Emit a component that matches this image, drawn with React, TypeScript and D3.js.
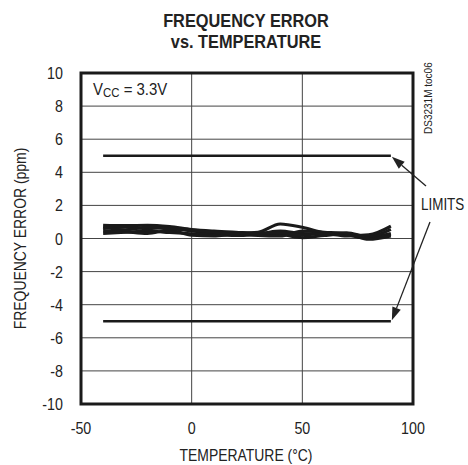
import React from "react";
import * as d3 from "d3";

const temps = [-40, -30, -20, -10, 0, 10, 20, 30, 40, 50, 60, 70, 80, 90];
const series1 = [0.8, 0.78, 0.8, 0.72, 0.55, 0.45, 0.38, 0.32, 0.45, 0.3, 0.28, 0.35, 0.1, 0.3];
const series2 = [0.62, 0.68, 0.6, 0.66, 0.45, 0.35, 0.32, 0.38, 0.88, 0.68, 0.35, 0.22, 0.0, 0.25];
const series3 = [0.3, 0.38, 0.45, 0.36, 0.28, 0.22, 0.18, 0.22, 0.22, 0.05, 0.18, 0.25, -0.05, 0.15];
const series4 = [0.48, 0.4, 0.3, 0.5, 0.2, 0.15, 0.28, 0.18, 0.15, 0.45, 0.38, 0.3, 0.12, 0.55];
const series5 = [0.7, 0.52, 0.68, 0.58, 0.5, 0.38, 0.25, 0.3, 0.35, 0.2, 0.3, 0.15, 0.22, 0.75];
const allSeries = [series1, series2, series3, series4, series5];

const limitTemps = [-40, 90];
const limitValues = [5, -5];

const xTicks = [-50, 0, 50, 100];
const yTicks = [-10, -8, -6, -4, -2, 0, 2, 4, 6, 8, 10];

const W = 468;
const H = 465;
const FONT = "'Liberation Sans', Arial, sans-serif";
const INK = "#222";

function CText(props: {
  x: number;
  y: number;
  sx?: number;
  size: number;
  anchor?: string;
  bold?: boolean;
  rotate?: number;
  children: React.ReactNode;
}) {
  const { x, y, sx = 0.84, size, anchor = "start", bold, rotate = 0, children } = props;
  return (
    <g transform={`translate(${x},${y}) rotate(${rotate}) scale(${sx},1)`}>
      <text x={0} y={0} fontSize={size} textAnchor={anchor} fontWeight={bold ? "bold" : "normal"} fill={INK}>
        {children}
      </text>
    </g>
  );
}

export default function App() {
  const x = d3.scaleLinear().domain([-50, 100]).range([81, 413]);
  const y = d3.scaleLinear().domain([-10, 10]).range([404, 73]);
  const line = d3
    .line<[number, number]>()
    .x((d) => x(d[0]))
    .y((d) => y(d[1]))
    .curve(d3.curveMonotoneX);

  const arrow = (x1: number, y1: number, x2: number, y2: number, key: string) => {
    const ang = Math.atan2(y2 - y1, x2 - x1);
    const L = 13;
    const Wd = 4.5;
    const bx = x2 - L * Math.cos(ang);
    const by = y2 - L * Math.sin(ang);
    const px = -Math.sin(ang) * Wd;
    const py = Math.cos(ang) * Wd;
    return (
      <g key={key}>
        <line x1={x1} y1={y1} x2={bx} y2={by} stroke={INK} strokeWidth={1.3} />
        <path d={`M${x2},${y2}L${bx + px},${by + py}L${bx - px},${by - py}Z`} fill={INK} />
      </g>
    );
  };

  return (
    <svg width={W} height={H} style={{ position: "absolute", left: 0, top: 0, background: "#fff" }} fontFamily={FONT}>
      <rect x={0} y={0} width={W} height={H} fill="#fff" />
      <CText x={246} y={27} size={19} sx={0.86} anchor="middle" bold>
        FREQUENCY ERROR
      </CText>
      <CText x={246} y={48} size={19} sx={0.86} anchor="middle" bold>
        vs. TEMPERATURE
      </CText>

      {/* grid */}
      {yTicks.slice(1, -1).map((t) => (
        <line key={"gy" + t} x1={x(-50)} x2={x(100)} y1={y(t)} y2={y(t)} stroke="#444" strokeWidth={1} />
      ))}
      {xTicks.slice(1, -1).map((t) => (
        <line key={"gx" + t} x1={x(t)} x2={x(t)} y1={y(10)} y2={y(-10)} stroke="#444" strokeWidth={1} />
      ))}

      {/* data */}
      {allSeries.map((s, i) => (
        <path
          key={"s" + i}
          d={line(temps.map((t, j) => [t, s[j]] as [number, number])) || ""}
          fill="none"
          stroke="#1a1a1a"
          strokeWidth={3}
        />
      ))}

      {/* limits */}
      {limitValues.map((v) => (
        <line key={"l" + v} x1={x(limitTemps[0])} x2={x(limitTemps[1])} y1={y(v)} y2={y(v)} stroke="#1a1a1a" strokeWidth={2.6} />
      ))}

      {/* frame */}
      <rect x={x(-50)} y={y(10)} width={x(100) - x(-50)} height={y(-10) - y(10)} fill="none" stroke="#1a1a1a" strokeWidth={3} />

      {/* tick labels */}
      {yTicks.map((t) => (
        <CText key={"yt" + t} x={63} y={y(t) + 6} size={17} anchor="end">
          {t}
        </CText>
      ))}
      {xTicks.map((t) => (
        <CText key={"xt" + t} x={x(t)} y={434} size={17} anchor="middle">
          {t}
        </CText>
      ))}

      <CText x={246} y={461} size={17} sx={0.82} anchor="middle">
        TEMPERATURE (°C)
      </CText>
      <CText x={26} y={(y(10) + y(-10)) / 2} size={17} sx={0.82} anchor="middle" rotate={-90}>
        FREQUENCY ERROR (ppm)
      </CText>

      <g transform="translate(93,95) scale(0.88,1)">
        <text x={0} y={0} fontSize={17} fill={INK}>
          V<tspan fontSize={13} dy={2}>CC</tspan>
          <tspan dy={-2}> = 3.3V</tspan>
        </text>
      </g>

      <CText x={432} y={134} size={10} sx={1} rotate={-90}>
        DS3231M toc06
      </CText>

      <CText x={421} y={210} size={16} sx={0.84}>
        LIMITS
      </CText>
      {arrow(426, 186, x(90) + 1, y(5) + 1, "a1")}
      {arrow(430, 222, x(90) + 1, y(-5) - 1, "a2")}
    </svg>
  );
}
